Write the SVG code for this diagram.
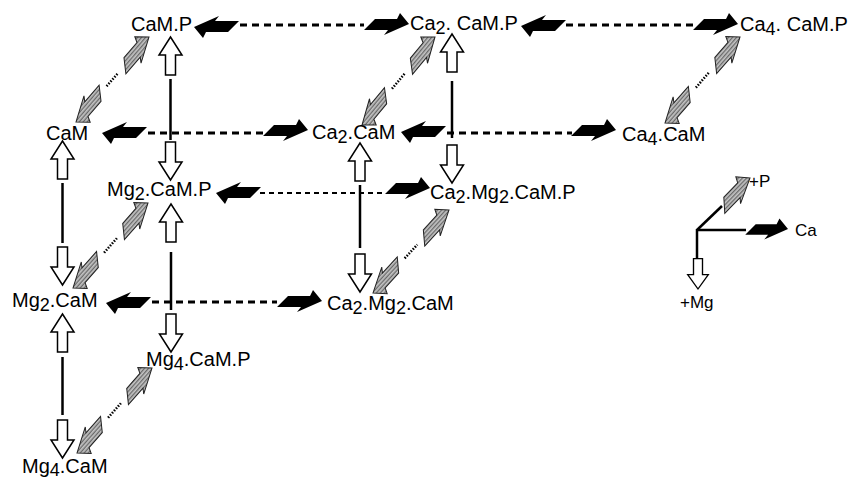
<svg xmlns="http://www.w3.org/2000/svg" width="851" height="480" viewBox="0 0 851 480">
<defs>
<pattern id="hatch" width="3" height="3" patternUnits="userSpaceOnUse"><rect width="3" height="3" fill="#c4c4c4"/><rect width="3" height="1.3" fill="#6a6a6a"/></pattern>
<path id="blk" d="M0,0 L-9,-11 L-12,-5 L-34,-5 L-45,6 L-21,6 L-25,11 Z"/>
<path id="gry" d="M0,0 L-9,-11 L-12,-5.5 L-32,-5.5 L-43,6.5 L-21,6.5 L-25,11 Z"/>
<path id="hol" d="M0,0 L11.5,18 L5,18 L5,38 L-5,38 L-5,18 L-11.5,18 Z"/>
</defs>
<style>
text{font-family:"Liberation Sans",Arial,Helvetica,sans-serif;font-size:20px;fill:#000}
.sub{font-size:18px}
.lg{font-size:17px}
.b{fill:#000}
.g{fill:url(#hatch);stroke:#222;stroke-width:1}
.h{fill:#fff;stroke:#000;stroke-width:1.5}
.dash{stroke:#000;stroke-width:3;stroke-dasharray:7 5;fill:none}
.dash2{stroke:#000;stroke-width:2;stroke-dasharray:5 4;fill:none}
.dot{stroke:#000;stroke-width:2.5;stroke-dasharray:1.5 1.5;fill:none}
.solid{stroke:#000;stroke-width:2.5;fill:none}
</style>
<rect width="851" height="480" fill="#fff"/>

<g id="connectors">
  <!-- row 1 horizontals -->
  <line class="dash" x1="240" y1="25" x2="364" y2="25"/>
  <line class="dash" x1="566" y1="25" x2="693" y2="25"/>
  <use href="#blk" class="b" transform="translate(194,27) rotate(180)"/>
  <use href="#blk" class="b" transform="translate(409,24)"/>
  <use href="#blk" class="b" transform="translate(521,26) rotate(180)"/>
  <use href="#blk" class="b" transform="translate(738,24)"/>
  <!-- row 2 -->
  <line class="dash" x1="148" y1="133" x2="263" y2="133"/>
  <line class="dash" x1="447" y1="133" x2="572" y2="133"/>
  <use href="#blk" class="b" transform="translate(102,133) rotate(180)"/>
  <use href="#blk" class="b" transform="translate(308,130)"/>
  <use href="#blk" class="b" transform="translate(401,132) rotate(180)"/>
  <use href="#blk" class="b" transform="translate(616,130)"/>
  <!-- row 3 -->
  <line class="dash2" x1="260" y1="193" x2="385" y2="193"/>
  <use href="#blk" class="b" transform="translate(216,193) rotate(180)"/>
  <use href="#blk" class="b" transform="translate(430,188)"/>
  <!-- row 4 -->
  <line class="dash" x1="152" y1="302" x2="277" y2="302"/>
  <use href="#blk" class="b" transform="translate(106,303) rotate(180)"/>
  <use href="#blk" class="b" transform="translate(322,301)"/>

  <!-- verticals -->
  <use href="#hol" class="h" transform="translate(170.5,37)"/>
  <line class="solid" x1="170.5" y1="79" x2="170.5" y2="140"/>
  <use href="#hol" class="h" transform="translate(170.5,180) rotate(180)"/>

  <use href="#hol" class="h" transform="translate(62.5,141)"/>
  <line class="solid" x1="62.5" y1="183" x2="62.5" y2="243"/>
  <use href="#hol" class="h" transform="translate(62.5,285) rotate(180)"/>

  <use href="#hol" class="h" transform="translate(171,204)"/>
  <line class="solid" x1="171" y1="252" x2="171" y2="310"/>
  <use href="#hol" class="h" transform="translate(171,352) rotate(180)"/>

  <use href="#hol" class="h" transform="translate(62.5,314)"/>
  <line class="solid" x1="62.5" y1="357" x2="62.5" y2="415"/>
  <use href="#hol" class="h" transform="translate(62.5,458) rotate(180)"/>

  <use href="#hol" class="h" transform="translate(452,34)"/>
  <line class="solid" x1="452" y1="81" x2="452" y2="138"/>
  <use href="#hol" class="h" transform="translate(452,183) rotate(180)"/>

  <use href="#hol" class="h" transform="translate(360,143)"/>
  <line class="solid" x1="360" y1="185" x2="360" y2="248"/>
  <use href="#hol" class="h" transform="translate(360,292) rotate(180)"/>

  <!-- diagonals -->
  <use href="#gry" class="g" transform="translate(149,37) rotate(-49.3)"/>
  <line class="dot" x1="106.6" y1="86.3" x2="118.4" y2="72.7"/>
  <use href="#gry" class="g" transform="translate(76,122) rotate(130.7)"/>

  <use href="#gry" class="g" transform="translate(435,37) rotate(-50.3)"/>
  <line class="dot" x1="392" y1="88.8" x2="405" y2="73.2"/>
  <use href="#gry" class="g" transform="translate(362,125) rotate(129.7)"/>

  <use href="#gry" class="g" transform="translate(740,37) rotate(-48.9)"/>
  <line class="dot" x1="695.9" y1="87.6" x2="709.1" y2="72.4"/>
  <use href="#gry" class="g" transform="translate(665,123) rotate(131.1)"/>

  <use href="#gry" class="g" transform="translate(148,203) rotate(-48.6)"/>
  <line class="dot" x1="104.1" y1="252.8" x2="116.9" y2="238.2"/>
  <use href="#gry" class="g" transform="translate(73,288) rotate(131.4)"/>

  <use href="#gry" class="g" transform="translate(449,210) rotate(-47.5)"/>
  <line class="dot" x1="404.7" y1="258.3" x2="417.3" y2="244.7"/>
  <use href="#gry" class="g" transform="translate(373,293) rotate(132.5)"/>

  <use href="#gry" class="g" transform="translate(152,368) rotate(-48.6)"/>
  <line class="dot" x1="108.1" y1="417.8" x2="120.9" y2="403.2"/>
  <use href="#gry" class="g" transform="translate(77,453) rotate(131.4)"/>
</g>

<g id="legend">
  <line class="solid" x1="697" y1="230" x2="722" y2="206" stroke-width="2"/>
  <use href="#gry" class="g" transform="translate(750,178) rotate(-46)"/>
  <line class="solid" x1="697" y1="230" x2="746" y2="230" stroke-width="2"/>
  <use href="#blk" class="b" transform="translate(788,229) scale(0.95)"/>
  <line class="solid" x1="697" y1="229" x2="697" y2="259" stroke-width="2"/>
  <use href="#hol" class="h" transform="translate(698,289) rotate(180) scale(0.9,0.8)"/>
  <text class="lg" x="749" y="187">+P</text>
  <text class="lg" x="795" y="236">Ca</text>
  <text class="lg" x="680" y="308">+Mg</text>
</g>

<g id="n-CaMP"><text x="131" y="31">CaM.P</text></g>
<g id="n-Ca2CaMP"><text x="410" y="30">Ca<tspan class="sub" dy="4">2</tspan><tspan dy="-4">. CaM.P</tspan></text></g>
<g id="n-Ca4CaMP"><text x="740" y="31">Ca<tspan class="sub" dy="4">4</tspan><tspan dy="-4">. CaM.P</tspan></text></g>
<g id="n-CaM"><text x="46" y="140">CaM</text></g>
<g id="n-Ca2CaM"><text x="312" y="139">Ca<tspan class="sub" dy="4">2</tspan><tspan dy="-4">.CaM</tspan></text></g>
<g id="n-Ca4CaM"><text x="622" y="141">Ca<tspan class="sub" dy="4">4</tspan><tspan dy="-4">.CaM</tspan></text></g>
<g id="n-Mg2CaMP"><text x="107" y="196">Mg<tspan class="sub" dy="4">2</tspan><tspan dy="-4">.CaM.P</tspan></text></g>
<g id="n-Ca2Mg2CaMP"><text x="430" y="199">Ca<tspan class="sub" dy="4">2</tspan><tspan dy="-4">.Mg</tspan><tspan class="sub" dy="4">2</tspan><tspan dy="-4">.CaM.P</tspan></text></g>
<g id="n-Mg2CaM"><text x="12" y="307">Mg<tspan class="sub" dy="4">2</tspan><tspan dy="-4">.CaM</tspan></text></g>
<g id="n-Ca2Mg2CaM"><text x="327" y="310">Ca<tspan class="sub" dy="4">2</tspan><tspan dy="-4">.Mg</tspan><tspan class="sub" dy="4">2</tspan><tspan dy="-4">.CaM</tspan></text></g>
<g id="n-Mg4CaMP"><text x="146" y="366">Mg<tspan class="sub" dy="4">4</tspan><tspan dy="-4">.CaM.P</tspan></text></g>
<g id="n-Mg4CaM"><text x="22" y="473">Mg<tspan class="sub" dy="3">4</tspan><tspan dy="-3">.CaM</tspan></text></g>
</svg>
